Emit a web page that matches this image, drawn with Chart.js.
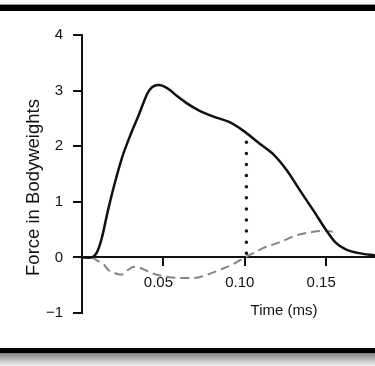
<!DOCTYPE html>
<html>
<head>
<meta charset="utf-8">
<script src="https://cdn.jsdelivr.net/npm/chart.js@4.4.1/dist/chart.umd.min.js"></script>
<style>
  html, body { margin: 0; padding: 0; background: #fff; }
  #wrap { position: relative; width: 375px; height: 366px; overflow: hidden; }
  #forceChart { position: absolute; left: 0; top: 0; }
  .bar { position: absolute; left: 0; width: 375px; }
  #topBar { top: 4px; height: 6px; background: #000; border-top: 1px solid #9a9a9a; }
  #bottomBar { top: 348px; height: 5px; background: #000; }
  #shadow { top: 353px; height: 13px; background: linear-gradient(#808080, #f2f2f2); }
</style>
</head>
<body>
<div id="wrap">
  <canvas id="forceChart" width="375" height="366"></canvas>
  <div class="bar" id="topBar"></div>
  <div class="bar" id="bottomBar"></div>
  <div class="bar" id="shadow"></div>
</div>
<script>
// total force (solid) and the second component (grey dashed)
const forceTime = [0, 0.006, 0.009, 0.012, 0.016, 0.020, 0.025, 0.030, 0.035, 0.040,
  0.043, 0.0465, 0.050, 0.054, 0.058, 0.064, 0.072, 0.080, 0.090, 0.099,
  0.109, 0.117, 0.126, 0.134, 0.142, 0.150, 0.156, 0.162, 0.170, 0.180];
const forceTotal = [0, 0, 0.08, 0.33, 0.85, 1.32, 1.83, 2.22, 2.57, 2.94,
  3.06, 3.10, 3.08, 3.01, 2.91, 2.78, 2.64, 2.54, 2.44, 2.28,
  2.05, 1.87, 1.56, 1.20, 0.85, 0.49, 0.26, 0.145, 0.077, 0.036];

const partTime = [0.006, 0.0108, 0.0138, 0.016, 0.020, 0.024, 0.028, 0.032, 0.036, 0.0425,
  0.0486, 0.061, 0.069, 0.077, 0.085, 0.093, 0.0994, 0.1055, 0.1116, 0.122,
  0.132, 0.142, 0.1505, 0.154];
const partForce = [0, -0.08, -0.14, -0.22, -0.28, -0.31, -0.23, -0.17, -0.19, -0.28,
  -0.33, -0.37, -0.37, -0.31, -0.22, -0.12, -0.01, 0.08, 0.17, 0.28,
  0.40, 0.46, 0.48, 0.46];

const markerTime = 0.101;
const markerTop = 2.07;

const xTicks = [0.05, 0.10, 0.15];
const yTicks = [-1, 0, 1, 2, 3, 4];

const fontName = "'Liberation Sans', Arial, sans-serif";
const inkColor = "#111";

function toPoints(xs, ys) {
  return xs.map((x, i) => ({ x: x, y: ys[i] }));
}

// axis titles sit off-centre in the original, so they are drawn by hand
const axisTitles = {
  id: "axisTitles",
  afterDraw(c) {
    const ctx = c.ctx;
    ctx.save();
    ctx.fillStyle = inkColor;
    ctx.font = "15px " + fontName;
    ctx.textAlign = "center";
    ctx.textBaseline = "middle";
    ctx.fillText("Time (ms)", 284, 311);
    ctx.translate(33.5, 187.5);
    ctx.rotate(-Math.PI / 2);
    ctx.font = "18.5px " + fontName;
    ctx.fillText("Force in Bodyweights", 0, 0);
    ctx.restore();
  },
};

const chart = document.getElementById("forceChart");

forceChart = new Chart(chart, {
  type: "line",
  data: {
    datasets: [
      {
        label: "Total",
        data: toPoints(forceTime, forceTotal),
        borderColor: "#111",
        borderWidth: 2.5,
        pointRadius: 0,
        tension: 0.3,
      },
      {
        label: "Marker",
        data: [
          { x: markerTime, y: markerTop },
          { x: markerTime, y: 0 },
        ],
        borderColor: "#111",
        borderWidth: 3.5,
        borderDash: [0, 11.1],
        borderCapStyle: "round",
        pointRadius: 0,
      },
      {
        label: "Component",
        data: toPoints(partTime, partForce),
        borderColor: "#858585",
        borderWidth: 2,
        borderDash: [9, 5],
        pointRadius: 0,
        cubicInterpolationMode: "monotone",
      },
    ],
  },
  options: {
    responsive: false,
    animation: false,
    layout: {
      padding: { top: 35, bottom: 53, left: 0, right: 0 },
    },
    plugins: {
      legend: { display: false },
      tooltip: { enabled: false },
    },
    scales: {
      x: {
        type: "linear",
        position: { y: 0 },
        min: 0,
        max: 0.18,
        afterBuildTicks: (scale) => {
          scale.ticks = xTicks.map((v) => ({ value: v }));
        },
        ticks: {
          color: inkColor,
          font: { family: fontName, size: 15 },
          padding: 8,
          labelOffset: -5,
          maxRotation: 0,
          callback: (v) => v.toFixed(2),
        },
        grid: {
          drawOnChartArea: false,
          color: "#111",
          lineWidth: 2,
          tickLength: 8,
        },
        border: { display: true, color: "#111", width: 2 },
      },
      y: {
        type: "linear",
        min: -1,
        max: 4,
        afterBuildTicks: (scale) => {
          scale.ticks = yTicks.map((v) => ({ value: v }));
        },
        afterFit: (scale) => {
          scale.width = 82;
        },
        ticks: {
          color: inkColor,
          font: { family: fontName, size: 15 },
          padding: 10,
          callback: (v) => (v < 0 ? "\u2212" + -v : String(v)),
        },
        grid: {
          drawOnChartArea: false,
          color: "#111",
          lineWidth: 2,
          tickLength: 9,
        },
        border: { display: true, color: "#111", width: 2 },
      },
    },
  },
  plugins: [axisTitles],
});
</script>
</body>
</html>
